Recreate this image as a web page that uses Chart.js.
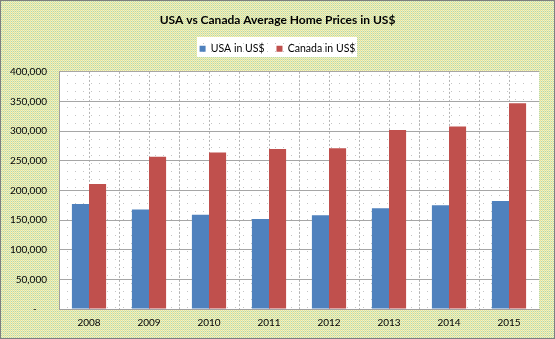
<!DOCTYPE html>
<html>
<head>
<meta charset="utf-8">
<script src="https://cdn.jsdelivr.net/npm/chart.js@4.4.1/dist/chart.umd.min.js"></script>
<style>
  body { margin: 0; background: #fff; }
  canvas { display: block; }
</style>
</head>
<body>
<canvas id="myChart" width="555" height="339"></canvas>
<script>
// veriler
const years = ['2008', '2009', '2010', '2011', '2012', '2013', '2014', '2015'];
const usaPrices = [177000, 168000, 159000, 152000, 158000, 170000, 175000, 182000];
const canadaPrices = [211000, 257000, 264000, 270000, 271000, 302000, 308000, 347000];
const yTicks = [0, 50000, 100000, 150000, 200000, 250000, 300000, 350000, 400000];
const seriesNames = ['USA in US$', 'Canada in US$'];
const chartTitle = 'USA vs Canada Average Home Prices in US$';

const fontName = 'Lato';

function makePattern(ctx, w, h, draw) {
    var c = document.createElement('canvas');
    c.width = w;
    c.height = h;
    draw(c.getContext('2d'));
    return ctx.createPattern(c, 'repeat');
}

var ctx = document.getElementById('myChart');
var ctx2d = ctx.getContext('2d');

// excel tarzı arka plan desenleri
var outerPattern = makePattern(ctx2d, 2, 2, function (p) {
    p.fillStyle = '#e6e49a';
    p.fillRect(0, 0, 1, 1);
    p.fillStyle = '#b8d9a8';
    p.fillRect(1, 1, 1, 1);
    p.fillStyle = '#f2f2c8';
    p.fillRect(1, 0, 1, 1);
    p.fillStyle = '#e8eec0';
    p.fillRect(0, 1, 1, 1);
});

var plotPattern = makePattern(ctx2d, 8, 8, function (p) {
    p.fillStyle = '#ffffff';
    p.fillRect(0, 0, 8, 8);
    p.fillStyle = '#c4c4c4';
    p.fillRect(3, 3, 1, 1);
});

const excelBackground = {
    id: 'excelBackground',
    beforeLayout(chart) {
        const lg = chart.legend;
        if (lg && !lg._patched) {
            // legend altına boşluk
            const fit = lg.fit;
            lg.fit = function () {
                fit.call(this);
                this.height += 8;
            };
            lg._patched = true;
        }
    },
    afterLayout(chart) {
        // başlık ve legend tuvalin ortasında
        [chart.titleBlock, chart.legend].forEach(function (b) {
            if (b) {
                b.left += 8;
                b.right += 8;
            }
        });
    },
    beforeDraw(chart) {
        const c = chart.ctx;
        const a = chart.chartArea;
        c.save();
        c.fillStyle = outerPattern;
        c.fillRect(0, 0, chart.width, chart.height);

        c.fillStyle = plotPattern;
        c.fillRect(a.left, a.top, a.right - a.left, a.bottom - a.top);

        // legend kutusu
        c.fillRect(197, 37, 160, 20);

        // dikey kesikli çizgiler
        const step = (a.right - a.left) / years.length / 2;
        c.strokeStyle = '#b4b4b4';
        c.lineWidth = 1;
        c.setLineDash([2, 2]);
        for (let i = 1; i < years.length * 2; i++) {
            const px = Math.round(a.left + i * step) + 0.5;
            c.beginPath();
            c.moveTo(px, a.top);
            c.lineTo(px, a.bottom);
            c.stroke();
        }
        c.setLineDash([]);
        c.restore();
    },
    afterDraw(chart) {
        const c = chart.ctx;
        c.save();
        c.strokeStyle = '#7f7f7f';
        c.lineWidth = 1;
        c.strokeRect(0.5, 0.5, chart.width - 1, chart.height - 1);
        c.restore();
    }
};

var mixedChart = new Chart(ctx, {
    type: 'bar',
    data: {
        labels: years,
        datasets: [{
            label: seriesNames[0],
            data: usaPrices,
            backgroundColor: '#4f81bd',
            borderWidth: 0
        },
        {
            label: seriesNames[1],
            data: canadaPrices,
            backgroundColor: '#c0504d',
            borderWidth: 0
        }]
    },
    options: {
        responsive: false,
        animation: false,
        layout: {
            padding: { left: 0, right: 16, top: 1, bottom: 0 }
        },
        datasets: {
            bar: {
                categoryPercentage: 0.57,
                barPercentage: 1
            }
        },
        plugins: {
            title: {
                display: true,
                text: chartTitle,
                color: '#000',
                font: { family: fontName, size: 12, weight: 'bold' },
                padding: { top: 12, bottom: 4 }
            },
            legend: {
                position: 'top',
                labels: {
                    color: '#000',
                    boxWidth: 6,
                    boxHeight: 6,
                    padding: 12,
                    font: { family: fontName, size: 10.5 }
                }
            },
            tooltip: { enabled: false }
        },
        scales: {
            x: {
                grid: { display: false, drawTicks: false },
                border: { display: true, color: '#a0a0a0' },
                ticks: {
                    color: '#000',
                    padding: 8,
                    font: { family: fontName, size: 10 }
                },
                afterFit: function (scale) {
                    scale.height = 30;
                }
            },
            y: {
                min: 0,
                max: 400000,
                afterBuildTicks: function (scale) {
                    scale.ticks = yTicks.map(v => ({ value: v }));
                },
                grid: {
                    color: '#a6a6a6',
                    drawTicks: false
                },
                border: { display: true, color: '#a0a0a0' },
                ticks: {
                    color: '#000',
                    padding: 12,
                    font: { family: fontName, size: 10 },
                    callback: function (v) {
                        return v === 0 ? '-    ' : v.toLocaleString('en-US');
                    }
                },
                afterFit: function (scale) {
                    scale.width = 59;
                }
            }
        }
    },
    plugins: [excelBackground]
});
</script>
</body>
</html>
